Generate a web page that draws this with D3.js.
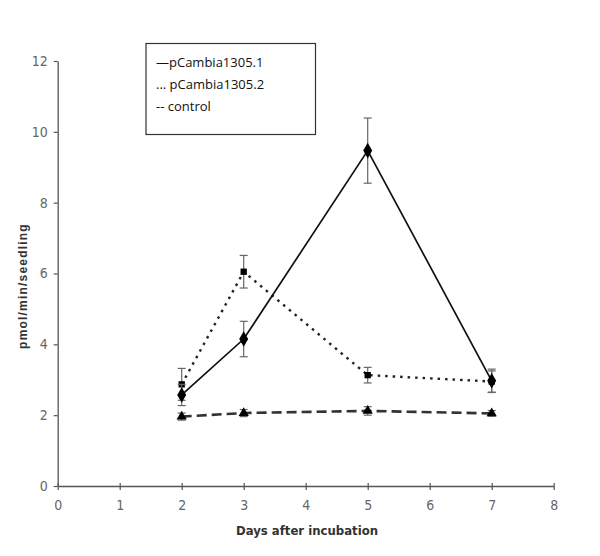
<!DOCTYPE html>
<html><head><meta charset="utf-8">
<script src="https://cdn.jsdelivr.net/npm/d3@7"></script>
<style>body{margin:0;background:#fff}</style>
</head><body>
<svg id="c" width="600" height="556"></svg>
<script>
const days = [2, 3, 5, 7];
const s1Values = [2.57, 4.15, 9.47, 2.97];
const s1Errors = [0.30, 0.50, 0.92, 0.33];
const s2Values = [2.87, 6.05, 3.13, 2.95];
const s2Errors = [0.45, 0.46, 0.22, 0.30];
const ctrlValues = [1.96, 2.06, 2.12, 2.05];
const ctrlErrors = [0.10, 0.10, 0.12, 0.08];
const xTicks = [0, 1, 2, 3, 4, 5, 6, 7, 8];
const yTicks = [0, 2, 4, 6, 8, 10, 12];
const legendLabels = ["\u2014pCambia1305.1", "... pCambia1305.2", "-- control"];

const svg = d3.select("#c");
const x = d3.scaleLinear().domain([0, 8]).range([57.7, 553.7]);
const y = d3.scaleLinear().domain([0, 12]).range([486, 61]);
const tickFont = "'DejaVu Sans Condensed','DejaVu Sans',sans-serif";

const xAxis = svg.append("g").attr("transform", `translate(0,${y(0)})`)
  .call(d3.axisBottom(x).tickValues(xTicks).tickSize(4).tickPadding(8).tickSizeOuter(0));
const yAxis = svg.append("g").attr("transform", `translate(${x(0)},0)`)
  .call(d3.axisLeft(y).tickValues(yTicks).tickSize(4).tickPadding(6).tickSizeOuter(0));
[xAxis, yAxis].forEach(a => {
  a.select(".domain").attr("stroke", "#555").attr("stroke-width", 1.3);
  a.selectAll(".tick line").attr("stroke", "#555").attr("stroke-width", 1.2);
  a.selectAll(".tick text").attr("fill", "#666").attr("font-size", 14).attr("font-family", tickFont)
    .style("font-stretch", "condensed");
});
xAxis.selectAll(".tick line").attr("y1", -3);
xAxis.selectAll(".tick text").attr("dy", "0.85em");

svg.append("text").attr("x", 307).attr("y", 535).attr("text-anchor", "middle")
  .attr("font-family", tickFont).style("font-stretch", "condensed").attr("font-weight", "bold")
  .attr("font-size", 13).attr("fill", "#333")
  .text("Days after incubation");
svg.append("text").attr("transform", "translate(27,286) rotate(-90)").attr("text-anchor", "middle")
  .attr("font-family", "'Liberation Sans','DejaVu Sans',sans-serif").attr("font-weight", "bold")
  .attr("font-size", 12).attr("letter-spacing", 1.2).attr("fill", "#333")
  .text("pmol/min/seedling");

const series = [
  {vals: ctrlValues, errs: ctrlErrors, dash: "10,5", width: 2.6, color: "#333", marker: d3.symbolTriangle, msize: 45},
  {vals: s2Values, errs: s2Errors, dash: "2.5,5", width: 2.4, color: "#222", marker: d3.symbolSquare, msize: 40},
  {vals: s1Values, errs: s1Errors, dash: null, width: 1.7, color: "#111", marker: d3.symbolDiamond, msize: 70}
];
const line = d3.line().x(d => x(d[0])).y(d => y(d[1]));
series.forEach(s => {
  const pts = days.map((d, i) => [d, s.vals[i], s.errs[i]]);
  const g = svg.append("g");
  g.selectAll("g.err").data(pts).join("g").each(function(p) {
    const e = d3.select(this);
    e.append("line").attr("x1", x(p[0])).attr("x2", x(p[0])).attr("y1", y(p[1] - p[2])).attr("y2", y(p[1] + p[2]))
      .attr("stroke", "#666").attr("stroke-width", 1.2);
    [p[1] - p[2], p[1] + p[2]].forEach(v => e.append("line").attr("x1", x(p[0]) - 4).attr("x2", x(p[0]) + 4)
      .attr("y1", y(v)).attr("y2", y(v)).attr("stroke", "#666").attr("stroke-width", 1.2));
  });
  g.append("path").datum(pts).attr("d", line).attr("fill", "none").attr("stroke", s.color)
    .attr("stroke-width", s.width).attr("stroke-dasharray", s.dash);
  g.selectAll("path.m").data(pts).join("path").attr("class", "m")
    .attr("transform", p => `translate(${x(p[0])},${y(p[1])})`)
    .attr("d", d3.symbol().type(s.marker).size(s.msize)).attr("fill", "#000");
});

const lg = svg.append("g");
lg.append("rect").attr("x", 146).attr("y", 43.5).attr("width", 169.5).attr("height", 91)
  .attr("fill", "#fff").attr("stroke", "#333").attr("stroke-width", 1.2);
lg.selectAll("text").data(legendLabels).join("text")
  .attr("x", 156).attr("y", (d, i) => 67 + i * 22)
  .attr("font-family", "'Open Sans','Liberation Sans',sans-serif").attr("font-size", 13).attr("fill", "#111")
  .text(d => d);
</script>
</body></html>
